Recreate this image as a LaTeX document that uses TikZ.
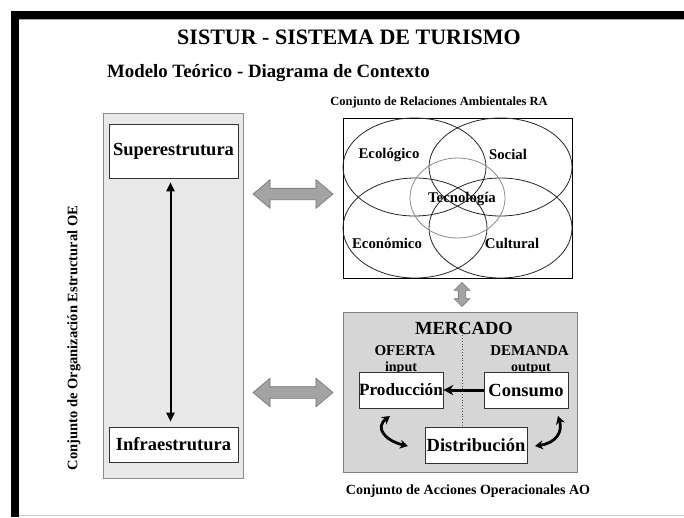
\documentclass[tikz,border=0pt]{standalone}
\usepackage{fontspec}
\setmainfont{Liberation Serif}
\usetikzlibrary{shapes.arrows,arrows.meta}
\tikzset{
  wbox/.style={draw=black!80, fill=white, line width=0.6pt, inner sep=0pt, font=\fontsize{18.5}{20}\selectfont\bfseries},
  lbl/.style={inner sep=0pt, font=\fontsize{12.5}{14}\selectfont\bfseries},
  vennlbl/.style={inner sep=0pt, font=\fontsize{14.8}{16}\selectfont\bfseries},
  hdr/.style={inner sep=0pt, font=\fontsize{15}{15}\selectfont\bfseries},
  sub/.style={inner sep=0pt, font=\fontsize{14}{14}\selectfont\bfseries},
  grayarrow/.style={double arrow, draw=black!55, fill=black!36, line width=0.6pt, inner sep=0pt,
    double arrow head extend=8.5pt, double arrow tip angle=80},
  blk/.style={line width=3pt, black},
  curv/.style={line width=2.8pt, {Stealth[length=8pt,width=9pt]}-{Stealth[length=8pt,width=9pt]}},
}
\begin{document}
\begin{tikzpicture}[x=1pt,y=-1pt]
\useasboundingbox (0,0) rectangle (684,517);
\fill[white] (0,0) rectangle (684,517);
% frame
\fill[black] (11,11) rectangle (684,19);
\fill[black] (11,11) rectangle (19,517);
\draw[black!20, line width=1pt] (19,515.5) -- (684,515.5);
\draw[black!35, line width=0.8pt] (19,19.6) -- (684,19.6);

% titles
\node[inner sep=0pt, font=\fontsize{22}{24}\selectfont\bfseries] (title) at (349,37) {SISTUR - SISTEMA DE TURISMO};
\node[inner sep=0pt, font=\fontsize{18.8}{22}\selectfont\bfseries, anchor=west] (subtitle) at (107,73) {Modelo Teórico - Diagrama de Contexto};

% left panel
\node[draw=black!45, fill=black!9, line width=0.8pt, minimum width=140pt, minimum height=365pt, inner sep=0pt] (oe) at (173,295.5) {};
\node[wbox, minimum width=129pt, minimum height=54pt] (super) at (173.5,151) {Superestrutura};
\node[wbox, minimum width=129pt, minimum height=35pt] (infra) at (173.5,444.5) {Infraestrutura};
\draw[line width=2pt, {Triangle[length=9pt,width=8pt]}-{Triangle[length=9pt,width=8pt]}] ([xshift=-3pt,yshift=-4pt]super.south) -- ([xshift=-3pt,yshift=5pt]infra.north);
\node[inner sep=0pt, rotate=90, font=\fontsize{14.5}{16}\selectfont\bfseries] (oelbl) at (74,338) {Conjunto de Organización Estructural OE};

% gray arrows
\node[grayarrow, minimum height=80pt] (ga1) at (293,194) {\rule{0pt}{11pt}};
\node[grayarrow, minimum height=80pt] (ga2) at (293,392.5) {\rule{0pt}{11pt}};

% RA box
\node[lbl] (ralbl) at (439,102) {Conjunto de Relaciones Ambientales RA};
\node[draw=black, line width=1pt, minimum width=229pt, minimum height=160pt, inner sep=0pt, fill=white] (ra) at (457.5,198) {};
\begin{scope}
\clip (ra.south west) rectangle (ra.north east);
\draw[black!85, line width=0.8pt] (414.5,167) ellipse [x radius=71.5pt, y radius=49pt];
\draw[black!85, line width=0.8pt] (500.5,167) ellipse [x radius=71.5pt, y radius=49pt];
\draw[black!85, line width=0.8pt] (415,228) ellipse [x radius=72pt, y radius=50pt];
\draw[black!85, line width=0.8pt] (500.5,228) ellipse [x radius=71.5pt, y radius=50pt];
\draw[black!45, line width=0.8pt] (457.5,198) ellipse [x radius=47.5pt, y radius=40pt];
\end{scope}
\node[vennlbl] (eco) at (389,155) {Ecológico};
\node[vennlbl] (soc) at (508,154) {Social};
\node[vennlbl] (tec) at (462,199) {Tecnología};
\node[vennlbl] (econ) at (387,243) {Económico};
\node[vennlbl] (cul) at (512,243) {Cultural};

% small vertical arrow
\node[double arrow, draw=black!55, fill=black!36, line width=0.6pt, inner sep=0pt, rotate=90,
  minimum height=24pt, double arrow head extend=4pt, double arrow tip angle=90] (ga3) at (462,294.5) {\rule{0pt}{7pt}};

% AO box
\node[draw=black!50, fill=black!16, line width=0.8pt, minimum width=234pt, minimum height=160pt, inner sep=0pt] (ao) at (460.5,392.5) {};
\node[wbox, minimum width=102pt, minimum height=36pt] (dist) at (476,445) {Distribución};
\coordinate (dtop) at (462,324);
\draw[black!70, line width=0.8pt, dotted] (dtop) -- (dtop |- dist.north);
\node[inner sep=0pt, font=\fontsize{18.5}{20}\selectfont\bfseries] (merc) at (464,328) {MERCADO};
\node[hdr, anchor=base] (oferta) at (405,355) {OFERTA};
\node[sub, anchor=base] (input) at (401,371) {input};
\node[hdr, anchor=base] (demanda) at (529.5,355) {DEMANDA};
\node[sub, anchor=base] (output) at (531,371) {output};
\node[wbox, minimum width=84pt, minimum height=36pt, font=\fontsize{17.2}{18}\selectfont\bfseries] (prod) at (401,390) {Producción};
\node[wbox, minimum width=84pt, minimum height=36pt] (cons) at (526,390) {Consumo};
\draw[blk, -{Stealth[length=10pt,width=10pt]}] (cons.west) -- (prod.east);
% curved arrows
\coordinate (l1) at (390,416);
\coordinate (l2) at (408,446);
\coordinate (r1) at (558,416);
\coordinate (r2) at (535,446);
\draw[curv] (l1) .. controls (374,428) and (386,441) .. (l2);
\draw[curv] (r1) .. controls (563,432) and (556,443) .. (r2);
\node[inner sep=0pt, font=\fontsize{14}{15}\selectfont\bfseries] (aolbl) at (468,491) {Conjunto de Acciones Operacionales AO};
\end{tikzpicture}
\end{document}
